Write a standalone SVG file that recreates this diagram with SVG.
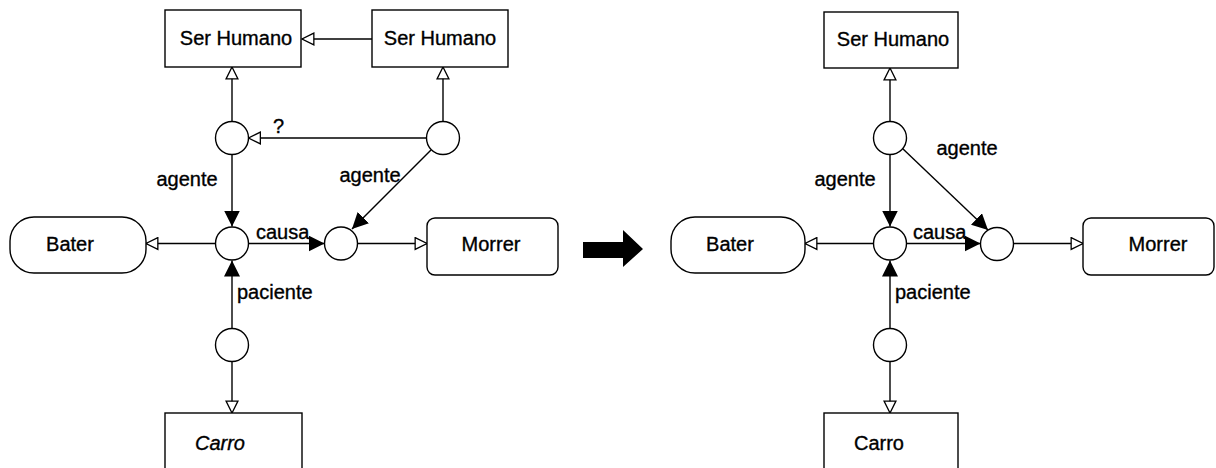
<svg xmlns="http://www.w3.org/2000/svg" width="1216" height="468" viewBox="0 0 1216 468">
  <style>
    .box { fill: #fff; stroke: #000; stroke-width: 1.4; }
    .node { fill: #fff; stroke: #000; stroke-width: 1.4; }
    .edge { fill: none; stroke: #000; stroke-width: 1.4; }
    .t { font-family: "Liberation Sans", Arial, sans-serif; font-size: 20px; fill: #000; stroke: #000; stroke-width: 0.35; }
    .c { text-anchor: middle; }
  </style>
  <defs>
    <marker id="hollow" markerUnits="userSpaceOnUse" markerWidth="14" markerHeight="14" viewBox="-1 -1 13 13" refX="11" refY="5.5" orient="auto">
      <path d="M0,0 L11,5.5 L0,11 Z" fill="#fff" stroke="#000" stroke-width="1.2"/>
    </marker>
    <marker id="solid" markerUnits="userSpaceOnUse" markerWidth="16" markerHeight="16" viewBox="0 0 14 14" refX="14" refY="7" orient="auto">
      <path d="M0,0 L14,7 L0,14 Z" fill="#000"/>
    </marker>
  </defs>

  <!-- connectors -->
  <g id="connectors">
    <!-- left graph -->
    <line class="edge" x1="372" y1="39" x2="302" y2="39" marker-end="url(#hollow)"/>
    <line class="edge" x1="232" y1="121.5" x2="232" y2="67" marker-end="url(#hollow)"/>
    <line class="edge" x1="443" y1="121.5" x2="443" y2="67" marker-end="url(#hollow)"/>
    <line class="edge" x1="426.5" y1="138" x2="248.5" y2="138" marker-end="url(#hollow)"/>
    <line class="edge" x1="232" y1="154.5" x2="232" y2="226.5" marker-end="url(#solid)"/>
    <line class="edge" x1="431" y1="150" x2="352" y2="229" marker-end="url(#solid)"/>
    <line class="edge" x1="248.5" y1="243.5" x2="324.5" y2="243.5" marker-end="url(#solid)"/>
    <line class="edge" x1="357.5" y1="243.5" x2="427" y2="243.5" marker-end="url(#hollow)"/>
    <line class="edge" x1="215.5" y1="243.5" x2="146" y2="243.5" marker-end="url(#hollow)"/>
    <line class="edge" x1="232" y1="328.5" x2="232" y2="260.5" marker-end="url(#solid)"/>
    <line class="edge" x1="232" y1="361.5" x2="232" y2="413" marker-end="url(#hollow)"/>

    <!-- right graph -->
    <line class="edge" x1="890" y1="121.5" x2="890" y2="68" marker-end="url(#hollow)"/>
    <line class="edge" x1="890" y1="154.5" x2="890" y2="226.5" marker-end="url(#solid)"/>
    <line class="edge" x1="902" y1="148" x2="988" y2="230" marker-end="url(#solid)"/>
    <line class="edge" x1="906.5" y1="243.5" x2="980.5" y2="243.5" marker-end="url(#solid)"/>
    <line class="edge" x1="1013.5" y1="243.5" x2="1083" y2="243.5" marker-end="url(#hollow)"/>
    <line class="edge" x1="873.5" y1="243.5" x2="805" y2="243.5" marker-end="url(#hollow)"/>
    <line class="edge" x1="890" y1="328.5" x2="890" y2="260.5" marker-end="url(#solid)"/>
    <line class="edge" x1="890" y1="361.5" x2="890" y2="413" marker-end="url(#hollow)"/>
  </g>

  <!-- edge labels -->
  <g id="labels" class="t">
    <text x="273" y="133">?</text>
    <text x="187" y="186" class="c">agente</text>
    <text x="370" y="182" class="c">agente</text>
    <text x="256" y="239">causa</text>
    <text x="237" y="299">paciente</text>

    <text x="845" y="186" class="c">agente</text>
    <text x="967" y="155" class="c">agente</text>
    <text x="913" y="239">causa</text>
    <text x="895" y="299">paciente</text>
  </g>

  <!-- left graph nodes -->
  <g id="ser-humano-a">
    <rect class="box" x="165" y="10" width="136" height="57"/>
    <text class="t c" x="236" y="45">Ser Humano</text>
  </g>
  <g id="ser-humano-b">
    <rect class="box" x="372" y="10" width="136" height="57"/>
    <text class="t c" x="440" y="45">Ser Humano</text>
  </g>
  <g id="c1"><circle class="node" cx="232" cy="138" r="16.5"/></g>
  <g id="c2"><circle class="node" cx="443" cy="138" r="16.5"/></g>
  <g id="c3"><circle class="node" cx="232" cy="243.5" r="16.5"/></g>
  <g id="c4"><circle class="node" cx="341" cy="243.5" r="16.5"/></g>
  <g id="c5"><circle class="node" cx="232" cy="345" r="16.5"/></g>
  <g id="bater-a">
    <rect class="box" x="10" y="217" width="136" height="56" rx="24"/>
    <text class="t c" x="70" y="251">Bater</text>
  </g>
  <g id="morrer-a">
    <rect class="box" x="427" y="218" width="131" height="57" rx="8"/>
    <text class="t c" x="491" y="251">Morrer</text>
  </g>
  <g id="carro-a">
    <rect class="box" x="165" y="413" width="137" height="70"/>
    <text class="t c" x="220" y="450" font-style="italic">Carro</text>
  </g>

  <!-- transformation arrow -->
  <g id="transform-arrow">
    <path d="M583,242 L623,242 L623,230 L643,249 L623,267 L623,258 L583,258 Z" fill="#000"/>
  </g>

  <!-- right graph nodes -->
  <g id="ser-humano">
    <rect class="box" x="824" y="12" width="134" height="56"/>
    <text class="t c" x="893" y="46">Ser Humano</text>
  </g>
  <g id="d1"><circle class="node" cx="890" cy="138" r="16.5"/></g>
  <g id="d3"><circle class="node" cx="890" cy="243.5" r="16.5"/></g>
  <g id="d4"><circle class="node" cx="997" cy="244" r="16.5"/></g>
  <g id="d5"><circle class="node" cx="890" cy="345" r="16.5"/></g>
  <g id="bater">
    <rect class="box" x="671" y="217" width="134" height="56" rx="24"/>
    <text class="t c" x="730" y="251">Bater</text>
  </g>
  <g id="morrer">
    <rect class="box" x="1083" y="218" width="131" height="57" rx="8"/>
    <text class="t c" x="1158" y="251">Morrer</text>
  </g>
  <g id="carro">
    <rect class="box" x="824" y="413" width="134" height="70"/>
    <text class="t c" x="879" y="450">Carro</text>
  </g>
</svg>
